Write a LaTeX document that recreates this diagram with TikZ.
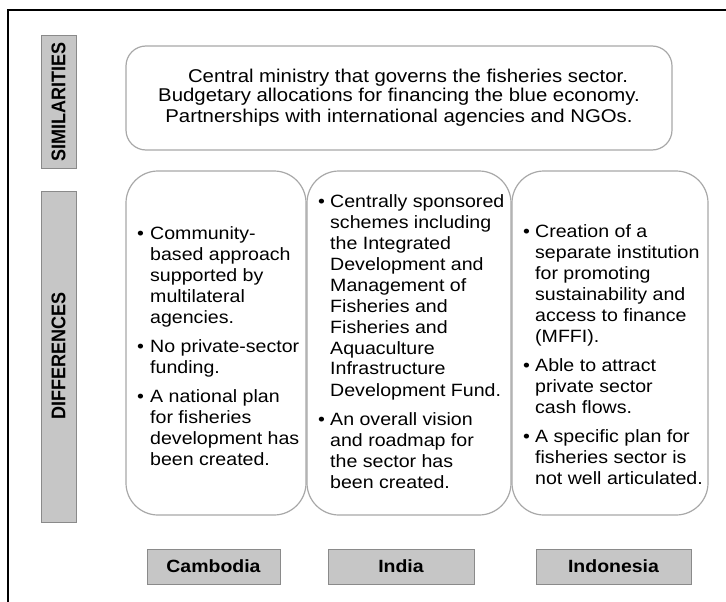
\documentclass[tikz,border=0pt]{standalone}
\usepackage{fontspec}
\newfontfamily\af[FakeStretch=1.1]{Liberation Sans}
\newfontfamily\rf[FakeStretch=0.91]{Liberation Sans}
\newcommand\tl[1]{\begin{tabular}[t]{@{}l@{}}#1\end{tabular}}
\newcommand\tc[1]{\begin{tabular}[t]{@{}c@{}}#1\end{tabular}}
\definecolor{labfill}{HTML}{C6C6C6}
\definecolor{labdraw}{HTML}{8A8A8A}
\definecolor{boxdraw}{HTML}{A8A8A8}
\tikzset{
  rbox/.style={draw=boxdraw, line width=1.2pt, rounded corners=#1},
  labbox/.style={draw=labdraw, fill=labfill, line width=1pt},
  item/.style={anchor=base west, inner sep=0pt, font=\af\fontsize{17.8}{21}\selectfont},
  bul/.style={anchor=base west, inner sep=0pt, font=\af\fontsize{17.8}{21}\selectfont},
  simtext/.style={anchor=base, inner sep=0pt, font=\af\fontsize{18.5}{20}\selectfont},
  country/.style={labbox, inner sep=0pt, font=\af\bfseries\fontsize{17.7}{20}\selectfont},
  side/.style={rotate=90, inner sep=0pt, font=\rf\bfseries\fontsize{19.8}{22}\selectfont}
}
\begin{document}
\begin{tikzpicture}[x=1pt,y=-1pt]
\useasboundingbox (0,0) rectangle (726,602);
% frame
\draw[line width=1.5pt] (8,602) -- (8,10) -- (726,10);
% side labels
\draw[labbox] (41,36) rectangle (76,168);
\node[side] (simlab) at (58.5,102) {SIMILARITIES};
\draw[labbox] (41,191) rectangle (76,522);
\node[side] (difflab) at (58.5,356) {DIFFERENCES};
% similarities box
\draw[rbox=20pt] (126,46) rectangle (672,150);
\node[simtext] (sim) at (399,82) {\tc{\hspace*{18pt}Central ministry that governs the fisheries sector.\\
Budgetary allocations for financing the blue economy.\\
Partnerships with international agencies and NGOs.}};
% difference boxes
\draw[rbox=32pt] (126,171) rectangle (306,515);
\draw[rbox=32pt] (307,171) rectangle (511,515);
\draw[rbox=32pt] (512,171) rectangle (708,515);
% Cambodia
\node[bul] (cb1) at (137,239) {•};
\node[item] (c1) at (150,239) {\tl{Community-\\based approach\\supported by\\multilateral\\agencies.}};
\node[bul] (cb2) at (137,352) {•};
\node[item] (c2) at (150,352) {\tl{No private-sector\\funding.}};
\node[bul] (cb3) at (137,402) {•};
\node[item] (c3) at (150,402) {\tl{A national plan\\for fisheries\\development has\\been created.}};
% India
\node[bul] (ib1) at (318,207) {•};
\node[item] (i1) at (330,207) {\tl{Centrally sponsored\\schemes including\\the Integrated\\Development and\\Management of\\Fisheries and\\Fisheries and\\Aquaculture\\Infrastructure\\Development Fund.}};
\node[bul] (ib2) at (318,425) {•};
\node[item] (i2) at (330,425) {\tl{An overall vision\\and roadmap for\\the sector has\\been created.}};
% Indonesia
\node[bul] (nb1) at (523,237) {•};
\node[item] (n1) at (535,237) {\tl{Creation of a\\separate institution\\for promoting\\sustainability and\\access to finance\\(MFFI).}};
\node[bul] (nb2) at (523,371) {•};
\node[item] (n2) at (535,371) {\tl{Able to attract\\private sector\\cash flows.}};
\node[bul] (nb3) at (523,442) {•};
\node[item] (n3) at (535,442) {\tl{A specific plan for\\fisheries sector is\\not well articulated.}};
% country labels
\node[country, minimum width=133pt, minimum height=35pt] (cam) at (213.5,566.5) {Cambodia};
\node[country, minimum width=146pt, minimum height=35pt] (ind) at (401,566.5) {India};
\node[country, minimum width=155pt, minimum height=35pt] (indo) at (613.5,566.5) {Indonesia};
\end{tikzpicture}
\end{document}
